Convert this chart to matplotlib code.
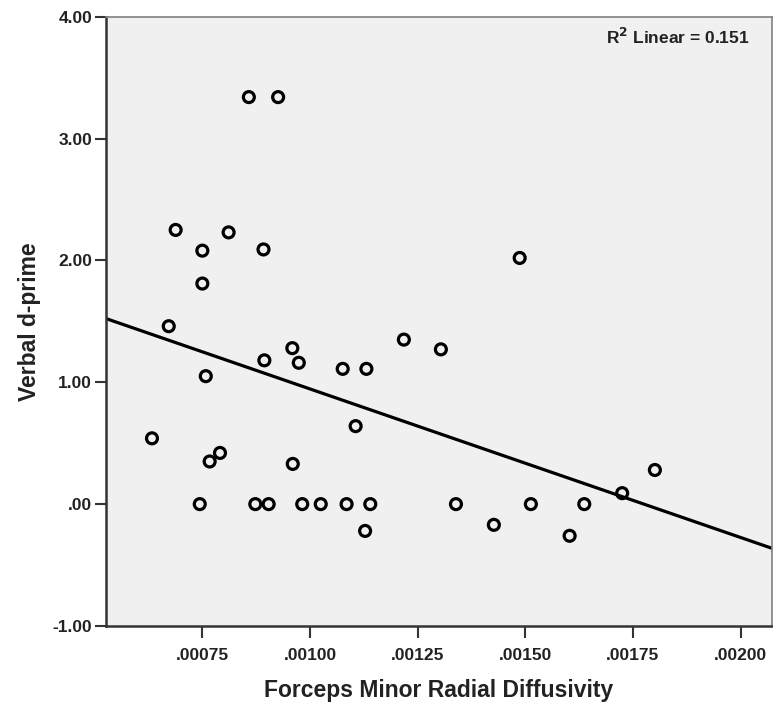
import numpy as np
import matplotlib
matplotlib.use("Agg")
import matplotlib.pyplot as plt

plt.rcParams['font.family'] = ['Liberation Sans', 'DejaVu Sans']

# forceps minor radial diffusivity vs verbal d-prime
rd = [0.000858, 0.000926, 0.000688, 0.000750, 0.000811, 0.000892, 0.000750,
      0.000672, 0.000959, 0.000894, 0.000974, 0.001076, 0.001131, 0.000758,
      0.000633, 0.000767, 0.000791, 0.000960, 0.001106,
      0.000744, 0.000873, 0.000904, 0.000982, 0.001025, 0.001085, 0.001140,
      0.001128, 0.001218, 0.001304, 0.001487, 0.001339, 0.001427, 0.001513,
      0.001603, 0.001637, 0.001725, 0.001801]
dprime = [3.34, 3.34, 2.25, 2.08, 2.23, 2.09, 1.81,
          1.46, 1.28, 1.18, 1.16, 1.11, 1.11, 1.05,
          0.54, 0.35, 0.42, 0.33, 0.64,
          0.0, 0.0, 0.0, 0.0, 0.0, 0.0, 0.0,
          -0.22, 1.35, 1.27, 2.02, 0.0, -0.17, 0.0,
          -0.26, 0.0, 0.09, 0.28]

x_ticks = [0.00075, 0.00100, 0.00125, 0.00150, 0.00175, 0.00200]
x_labels = [".00075", ".00100", ".00125", ".00150", ".00175", ".00200"]
y_ticks = [-1, 0, 1, 2, 3, 4]
y_labels = ["-1.00", ".00", "1.00", "2.00", "3.00", "4.00"]

xlim = (0.000526, 0.002073)

fig = plt.figure(figsize=(7.73, 7.07), dpi=100)
ax = fig.add_axes([0.137, 0.1146, 0.8617, 0.8618])
ax.set_facecolor("#f0f0f0")

ax.scatter(rd, dprime, s=62, facecolors="none", edgecolors="black",
           linewidths=2.3, zorder=3)

# linear fit
slope, intercept = np.polyfit(rd, dprime, 1)
xs = np.array(xlim)
ax.plot(xs, intercept + slope * xs, color="black", lw=2.3, zorder=2)

ax.set_xlim(*xlim)
ax.set_ylim(-1, 4)
ax.set_xticks(x_ticks)
ax.set_xticklabels(x_labels, fontsize=12.5, fontweight="bold")
ax.set_yticks(y_ticks)
ax.set_yticklabels(y_labels, fontsize=12.5, fontweight="bold", color="#222222")
ax.tick_params(axis="both", direction="out", width=1.5, color="#333333")
ax.tick_params(axis="x", length=8.6, pad=7, labelcolor="#222222")
ax.tick_params(axis="y", length=8, pad=2)

for side in ["left", "bottom"]:
    ax.spines[side].set_color("#333333")
    ax.spines[side].set_linewidth(1.8)
for side in ["top", "right"]:
    ax.spines[side].set_color("#808080")
    ax.spines[side].set_linewidth(1.2)

ax.set_xlabel("Forceps Minor Radial Diffusivity", fontsize=16.5, fontweight="bold",
              labelpad=12, color="#222222")
ax.set_ylabel("Verbal d-prime", fontsize=16.5, fontweight="bold", labelpad=8,
              color="#222222")

ax.text(0.967, 0.966, r"R$^{\mathbf{2}}$ Linear = 0.151", transform=ax.transAxes,
        ha="right", va="center", fontsize=12.5, fontweight="bold", color="#222222")

fig.savefig("out.png", dpi=100)
